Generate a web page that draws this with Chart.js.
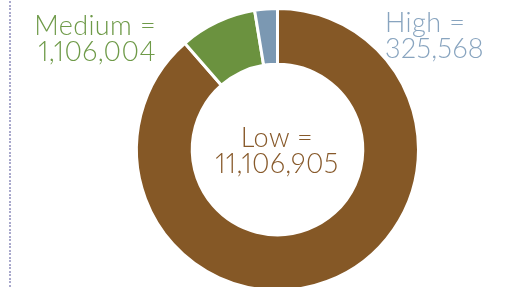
<!DOCTYPE html>
<html>
<head>
<meta charset="utf-8">
<script src="https://cdn.jsdelivr.net/npm/chart.js@4"></script>
<style>
    html, body {
        margin: 0;
        padding: 0;
        background: #ffffff;
        overflow: hidden;
        width: 518px;
        height: 287px;
    }
    #wrap {
        position: relative;
        width: 518px;
        height: 300px;
    }
    .lbl {
        position: absolute;
        font-family: Lato, "Open Sans", sans-serif;
        font-weight: 300;
        font-size: 27px;
        line-height: 26px;
        letter-spacing: 0.4px;
        white-space: nowrap;
        font-variant-numeric: proportional-nums;
        font-feature-settings: "pnum" 1;
    }
    #lblMedium { right: 362px; top: 12px; text-align: right; }
    #lblHigh { left: 385px; top: 9px; text-align: left; }
    #lblLow { left: 177px; width: 200px; top: 124px; text-align: center; }
</style>
</head>
<body>
<div id="wrap">
    <canvas id="riskChart" width="518" height="300"></canvas>
    <div class="lbl" id="lblMedium"></div>
    <div class="lbl" id="lblHigh"></div>
    <div class="lbl" id="lblLow"></div>
</div>
<script>

const categories = ["Low", "Medium", "High"];
const values = [11106905, 1106004, 325568];
const sliceColors = ["#855826", "#6b923f", "#7b98b2"];
const textColors = ["#87592a", "#6e9a48", "#88a4bf"];

// dotted separator on the left edge
const dottedLine = {
    id: "dottedLine",
    beforeDraw(chart) {
        const ctx = chart.ctx;
        ctx.save();
        ctx.fillStyle = "#a9a9cc";
        for (let y = 1; y < 300; y += 3.5) {
            ctx.fillRect(9, Math.round(y), 2, 2);
        }
        ctx.restore();
    },
};

const riskChart = new Chart(document.getElementById("riskChart"), {
    type: "doughnut",
    data: {
        labels: categories,
        datasets: [{
            data: values,
            backgroundColor: sliceColors,
            borderColor: "#ffffff",
            borderWidth: 3,
        }],
    },
    options: {
        responsive: false,
        animation: false,
        cutout: "60.5%",
        layout: {
            padding: { left: 135, right: 98, top: 7, bottom: 8 },
        },
        plugins: {
            legend: { display: false },
            tooltip: { enabled: false },
        },
    },
    plugins: [dottedLine],
});

const ids = ["lblLow", "lblMedium", "lblHigh"];
categories.forEach((name, i) => {
    const el = document.getElementById(ids[i]);
    el.style.color = textColors[i];
    el.innerHTML = name + " =<br>" + values[i].toLocaleString("en-US");
});

</script>
</body>
</html>
